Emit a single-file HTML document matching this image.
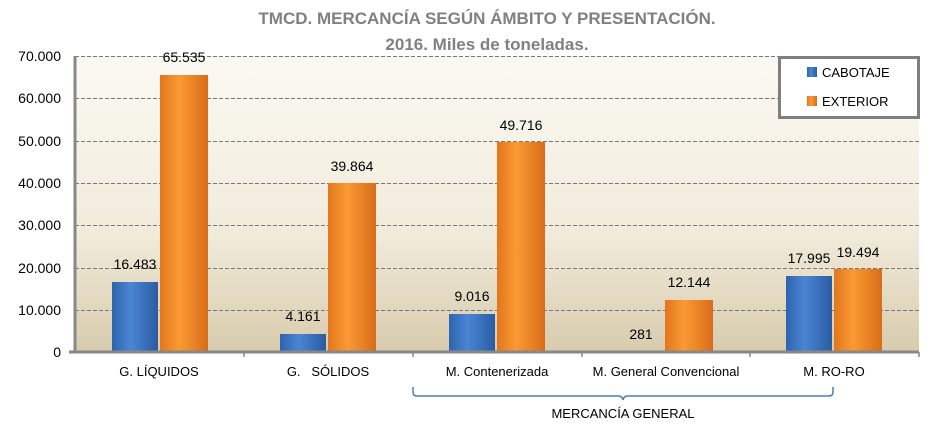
<!DOCTYPE html>
<html><head><meta charset="utf-8"><style>
body{margin:0;background:#fff;}
svg{display:block;font-family:"Liberation Sans",sans-serif;}
</style></head><body>
<svg width="947" height="434" viewBox="0 0 947 434">
<defs>
<linearGradient id="bg" x1="0" y1="0" x2="0" y2="1">
<stop offset="0" stop-color="#fbf9f3"/><stop offset="0.6" stop-color="#f1ebdb"/><stop offset="1" stop-color="#d8cbad"/>
</linearGradient>
<linearGradient id="bl" x1="0" y1="0" x2="1" y2="0">
<stop offset="0" stop-color="#2f63ad"/><stop offset="0.4" stop-color="#4a86d4"/><stop offset="1" stop-color="#2a5ca3"/>
</linearGradient>
<linearGradient id="or" x1="0" y1="0" x2="1" y2="0">
<stop offset="0" stop-color="#e2761e"/><stop offset="0.4" stop-color="#fa9a33"/><stop offset="1" stop-color="#d96c19"/>
</linearGradient>
</defs>
<text x="487" y="24" text-anchor="middle" font-size="17" font-weight="bold" fill="#808080">TMCD. MERCANCÍA SEGÚN ÁMBITO Y PRESENTACIÓN.</text>
<text x="487" y="50" text-anchor="middle" font-size="17" font-weight="bold" fill="#808080">2016. Miles de toneladas.</text>
<rect x="75" y="56" width="844" height="296" fill="url(#bg)"/>
<g stroke="#777" stroke-dasharray="4,2" stroke-width="1">
<line x1="75" x2="919" y1="56.5" y2="56.5"/><line x1="75" x2="919" y1="98.5" y2="98.5"/><line x1="75" x2="919" y1="141.5" y2="141.5"/><line x1="75" x2="919" y1="183.5" y2="183.5"/><line x1="75" x2="919" y1="225.5" y2="225.5"/><line x1="75" x2="919" y1="268.5" y2="268.5"/><line x1="75" x2="919" y1="310.5" y2="310.5"/>
</g>
<g font-size="14" fill="#000" text-anchor="end">
<text x="61" y="61">70.000</text><text x="61" y="103">60.000</text><text x="61" y="146">50.000</text><text x="61" y="188">40.000</text><text x="61" y="230">30.000</text><text x="61" y="273">20.000</text><text x="61" y="315">10.000</text><text x="61" y="357">0</text>
</g>
<!-- bars -->
<rect x="112" y="282" width="46" height="70" fill="url(#bl)"/>
<rect x="160" y="75" width="48" height="277" fill="url(#or)"/>
<rect x="280" y="334" width="46" height="18" fill="url(#bl)"/>
<rect x="328" y="183" width="48" height="169" fill="url(#or)"/>
<rect x="449" y="314" width="46" height="38" fill="url(#bl)"/>
<rect x="497" y="142" width="48" height="210" fill="url(#or)"/>
<rect x="618" y="351" width="46" height="1" fill="url(#bl)"/>
<rect x="665" y="300" width="48" height="52" fill="url(#or)"/>
<rect x="786" y="276" width="46" height="76" fill="url(#bl)"/>
<rect x="834" y="269" width="48" height="83" fill="url(#or)"/>
<g font-size="14" fill="#000" text-anchor="middle">
<text x="135" y="269">16.483</text><text x="184" y="62">65.535</text>
<text x="303" y="321">4.161</text><text x="352" y="171">39.864</text>
<text x="472" y="301">9.016</text><text x="521" y="130">49.716</text>
<text x="641" y="339">281</text><text x="689" y="287">12.144</text>
<text x="809" y="263">17.995</text><text x="858" y="257">19.494</text>
</g>
<line x1="75" y1="56" x2="75" y2="352" stroke="#888" stroke-width="3"/>
<line x1="69" y1="352" x2="919" y2="352" stroke="#888" stroke-width="3"/>
<g stroke="#888" stroke-width="1.5">
<line x1="244" x2="244" y1="352" y2="357"/><line x1="413" x2="413" y1="352" y2="357"/><line x1="582" x2="582" y1="352" y2="357"/><line x1="750" x2="750" y1="352" y2="357"/><line x1="919" x2="919" y1="352" y2="357"/>
</g>
<g font-size="13" fill="#000" text-anchor="middle">
<text x="159" y="376">G. LÍQUIDOS</text><text x="328" y="376" xml:space="preserve">G.   SÓLIDOS</text><text x="497" y="376">M. Contenerizada</text><text x="666" y="376">M. General Convencional</text><text x="834" y="376">M. RO-RO</text>
</g>
<path d="M413 387 v5 q0 4 4 4 H619 q3 0 4 4 q1-4 4-4 H829 q4 0 4-4 v-5" fill="none" stroke="#4a7ebb" stroke-width="1.5"/>
<text x="623" y="418" text-anchor="middle" font-size="13" fill="#000">MERCANCÍA GENERAL</text>
<rect x="779.5" y="57.5" width="139" height="60" fill="#fff" stroke="#7f7f7f" stroke-width="3"/>
<rect x="807" y="67" width="10" height="10" fill="url(#bl)"/>
<text x="822" y="77" font-size="13">CABOTAJE</text>
<rect x="807" y="96" width="10" height="10" fill="url(#or)"/>
<text x="822" y="106" font-size="13">EXTERIOR</text>
</svg>
</body></html>
